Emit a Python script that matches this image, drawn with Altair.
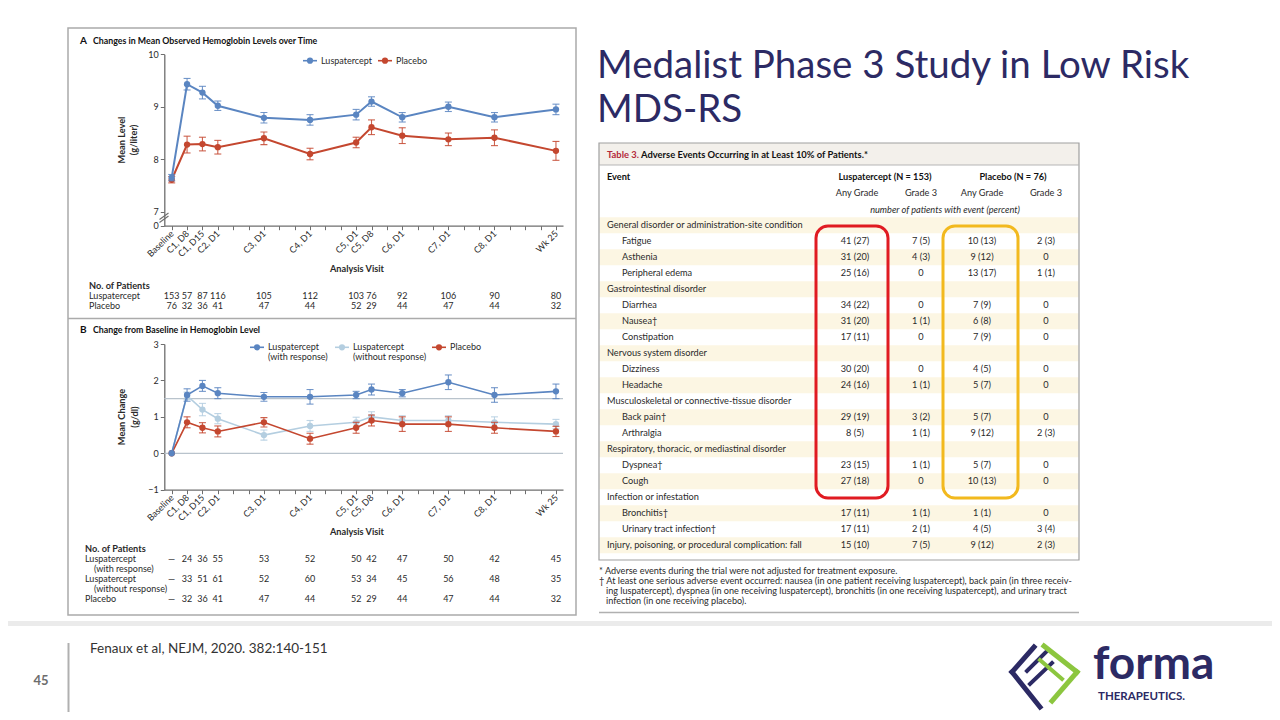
import json
import altair as alt
import pandas as pd

# ---------------------------------------------------------------- data
visit_labels = ["Baseline", "C1, D8", "C1, D15", "C2, D1", "C3, D1", "C4, D1",
                "C5, D1", "C5, D8", "C6, D1", "C7, D1", "C8, D1", "Wk 25"]
visit_weeks = [0, 1, 2, 3, 6, 9, 12, 13, 15, 18, 21, 25]

# Panel A: mean observed hemoglobin (g/dl)
a_lusp_mean = [7.65, 9.43, 9.27, 9.02, 8.79, 8.75, 8.85, 9.10, 8.80, 9.00, 8.80, 8.95]
a_lusp_err = [0.06, 0.11, 0.12, 0.09, 0.10, 0.10, 0.10, 0.09, 0.09, 0.09, 0.09, 0.10]
a_plac_mean = [7.61, 8.28, 8.29, 8.23, 8.40, 8.10, 8.32, 8.61, 8.45, 8.38, 8.41, 8.16]
a_plac_err = [0.06, 0.16, 0.13, 0.13, 0.12, 0.11, 0.10, 0.14, 0.15, 0.12, 0.15, 0.18]
a_n_lusp = ["153", "57", "87", "116", "105", "112", "103", "76", "92", "106", "90", "80"]
a_n_plac = ["76", "32", "36", "41", "47", "44", "52", "29", "44", "47", "44", "32"]

# Panel B: change from baseline (g/dl)
b_resp_mean = [0, 1.60, 1.85, 1.65, 1.55, 1.55, 1.60, 1.75, 1.65, 1.95, 1.60, 1.70]
b_resp_err = [0, 0.17, 0.15, 0.15, 0.12, 0.20, 0.10, 0.15, 0.10, 0.20, 0.20, 0.20]
b_nonr_mean = [0, 1.58, 1.20, 0.95, 0.50, 0.75, 0.85, 1.00, 0.90, 0.90, 0.85, 0.80]
b_nonr_err = [0, 0.10, 0.17, 0.14, 0.14, 0.15, 0.14, 0.14, 0.13, 0.13, 0.15, 0.13]
b_plac_mean = [0, 0.85, 0.70, 0.60, 0.85, 0.40, 0.70, 0.90, 0.80, 0.80, 0.70, 0.60]
b_plac_err = [0, 0.15, 0.14, 0.15, 0.13, 0.15, 0.15, 0.15, 0.20, 0.20, 0.15, 0.14]
b_n_resp = ["—", "24", "36", "55", "53", "52", "50", "42", "47", "50", "42", "45"]
b_n_nonr = ["—", "33", "51", "61", "52", "60", "53", "34", "45", "56", "48", "35"]
b_n_plac = ["—", "32", "36", "41", "47", "44", "52", "29", "44", "47", "44", "32"]
b_ref_lines = [0, 1.5]

# Table 3
ae_events = ["General disorder or administration-site condition", "Fatigue", "Asthenia",
             "Peripheral edema", "Gastrointestinal disorder", "Diarrhea", "Nausea†",
             "Constipation", "Nervous system disorder", "Dizziness", "Headache",
             "Musculoskeletal or connective-tissue disorder", "Back pain†", "Arthralgia",
             "Respiratory, thoracic, or mediastinal disorder", "Dyspnea†", "Cough",
             "Infection or infestation", "Bronchitis†", "Urinary tract infection†",
             "Injury, poisoning, or procedural complication: fall"]
ae_is_group = [1, 0, 0, 0, 1, 0, 0, 0, 1, 0, 0, 1, 0, 0, 1, 0, 0, 1, 0, 0, 1]
lusp_any = ["", "41 (27)", "31 (20)", "25 (16)", "", "34 (22)", "31 (20)", "17 (11)", "",
            "30 (20)", "24 (16)", "", "29 (19)", "8 (5)", "", "23 (15)", "27 (18)", "",
            "17 (11)", "17 (11)", "15 (10)"]
lusp_g3 = ["", "7 (5)", "4 (3)", "0", "", "0", "1 (1)", "0", "", "0", "1 (1)", "",
           "3 (2)", "1 (1)", "", "1 (1)", "0", "", "1 (1)", "2 (1)", "7 (5)"]
plac_any = ["", "10 (13)", "9 (12)", "13 (17)", "", "7 (9)", "6 (8)", "7 (9)", "",
            "4 (5)", "5 (7)", "", "5 (7)", "9 (12)", "", "5 (7)", "10 (13)", "",
            "1 (1)", "4 (5)", "9 (12)"]
plac_g3 = ["", "2 (3)", "0", "1 (1)", "", "0", "0", "0", "", "0", "0", "", "0", "2 (3)",
           "", "0", "0", "", "0", "3 (4)", "2 (3)"]

# ---------------------------------------------------------------- layout helpers
W, H = 1264, 704
M = 8
FONT = "Lato"
BLUE = "#5a85c1"
RED = "#c4472f"
LBLUE = "#b4cee0"
NAVY = "#2c2a64"
AXC = "#6e6e6e"
TXT = "#2a2a2a"


def px(x):
    return x - M


def py(y):
    return y - M


ONE = pd.DataFrame({"d": [0]})


def txt(s, x, y, size=9.0, weight="normal", color=TXT, align="left", angle=0,
        style="normal", font=FONT, baseline="middle"):
    kw = dict(font=font, fontSize=size, fontWeight=weight, color=color, align=align,
              baseline=baseline, fontStyle=style)
    if angle:
        kw["angle"] = angle
    return alt.Chart(pd.DataFrame({"t": [s]})).mark_text(**kw).encode(
        x=alt.value(px(x)), y=alt.value(py(y)), text="t:N")


def rect(x1, y1, x2, y2, fill=None, stroke=None, sw=1.0, radius=0):
    kw = {}
    if fill:
        kw["fill"] = fill
    else:
        kw["fill"] = "white"
        kw["fillOpacity"] = 0
    if stroke:
        kw["stroke"] = stroke
        kw["strokeWidth"] = sw
    if radius:
        kw["cornerRadius"] = radius
    return alt.Chart(ONE).mark_rect(**kw).encode(
        x=alt.value(px(x1)), x2=alt.value(px(x2)), y=alt.value(py(y1)), y2=alt.value(py(y2)))


def seg(x1, y1, x2, y2, color, width=1.0, cap="butt"):
    return alt.Chart(ONE).mark_rule(color=color, strokeWidth=width, strokeCap=cap).encode(
        x=alt.value(px(x1)), y=alt.value(py(y1)), x2=alt.value(px(x2)), y2=alt.value(py(y2)))


def dot(x, y, color, size=38):
    return alt.Chart(ONE).mark_point(filled=True, color=color, size=size, opacity=1).encode(
        x=alt.value(px(x)), y=alt.value(py(y)))


# ---------------------------------------------------------------- shared x (weeks)
X_LEFT, X_RIGHT = 164.3, 563.0
WK0, WK_STEP = 171.7, 15.37
x_domain = [(X_LEFT - WK0) / WK_STEP, (X_RIGHT - WK0) / WK_STEP]
wk_js = json.dumps(visit_weeks)
lab_js = json.dumps(visit_labels)
label_expr = f"indexof({wk_js}, datum.value) >= 0 ? {lab_js}[indexof({wk_js}, datum.value)] : ''"


def make_x(axis_y):
    ax = alt.Axis(orient="bottom", offset=py(axis_y) - H, values=list(range(0, 26)),
                  labelExpr=label_expr, labelAngle=315, labelAlign="right",
                  labelBaseline="middle", labelPadding=2, labelFontSize=9, labelFont=FONT,
                  labelColor=TXT, labelOverlap=False, labelFlush=False, tickSize=4,
                  tickColor=AXC, tickWidth=1, domainColor=AXC, domainWidth=1.3,
                  grid=False, title=None)
    sc = alt.Scale(domain=x_domain, range=[px(X_LEFT), px(X_RIGHT)], nice=False, zero=False)
    return alt.X("week:Q", scale=sc, axis=ax)


def make_yaxis(values, expr):
    return alt.Axis(orient="left", offset=-px(X_LEFT), values=values, labelExpr=expr,
                    labelFontSize=9, labelFont=FONT, labelColor=TXT, labelPadding=2,
                    tickSize=4, tickColor=AXC, tickWidth=1, domainColor=AXC,
                    domainWidth=1.3, grid=False, title=None)


def series_panel(df, xenc, yscale, yaxis, cscale, order_names, lw):
    color = alt.Color("series:N", scale=cscale, legend=None)

    def Y(f):
        return alt.Y(f"{f}:Q", scale=yscale, axis=yaxis)

    layers = []
    for name in order_names:
        d = df[df["series"] == name]
        de = d[d["err"] > 0]
        base_e = alt.Chart(de)
        layers.append(base_e.mark_rule(strokeWidth=1.1, opacity=0.85).encode(
            x=xenc, y=Y("lo"), y2="hi:Q", color=color))
        layers.append(base_e.mark_tick(orient="horizontal", size=7, thickness=1.1, opacity=0.85)
                      .encode(x=xenc, y=Y("lo"), color=color))
        layers.append(base_e.mark_tick(orient="horizontal", size=7, thickness=1.1, opacity=0.85)
                      .encode(x=xenc, y=Y("hi"), color=color))
        base = alt.Chart(d)
        layers.append(base.mark_line(strokeWidth=lw).encode(x=xenc, y=Y("mean"), color=color))
        layers.append(base.mark_circle(size=40, opacity=1).encode(
            x=xenc, y=Y("mean"), color=color))
    return layers


def count_row(values, xenc, y):
    d = pd.DataFrame({"week": visit_weeks, "n": values})
    return alt.Chart(d).mark_text(font=FONT, fontSize=9, color=TXT, align="center",
                                  baseline="middle").encode(
        x=xenc, y=alt.value(py(y)), text="n:N")


# ---------------------------------------------------------------- panel A
dfA = pd.DataFrame({
    "week": visit_weeks * 2,
    "series": ["Luspatercept"] * 12 + ["Placebo"] * 12,
    "mean": a_lusp_mean + a_plac_mean,
    "err": a_lusp_err + a_plac_err,
})
dfA["lo"] = dfA["mean"] - dfA["err"]
dfA["hi"] = dfA["mean"] + dfA["err"]

A_TOP, A_BOT = 54.3, 225.7
A_UNIT = 52.7
a_low = 7 - (A_BOT - 211.7) / A_UNIT
yA = alt.Scale(domain=[a_low, 10], range=[py(A_BOT), py(A_TOP)], nice=False, zero=False)
yA_axis = make_yaxis([a_low, 7, 8, 9, 10],
                     "datum.value < 6.9 ? '0' : format(datum.value, 'd')")
xA = make_x(A_BOT)
cA = alt.Scale(domain=["Luspatercept", "Placebo"], range=[BLUE, RED])

panelA = alt.layer(
    *series_panel(dfA, xA, yA, yA_axis, cA, ["Placebo", "Luspatercept"], 2.0),
    count_row(a_n_lusp, xA, 296),
    count_row(a_n_plac, xA, 306),
)

# ---------------------------------------------------------------- panel B
dfB = pd.DataFrame({
    "week": visit_weeks * 3,
    "series": ["Without"] * 12 + ["Placebo"] * 12 + ["With"] * 12,
    "mean": b_nonr_mean + b_plac_mean + b_resp_mean,
    "err": b_nonr_err + b_plac_err + b_resp_err,
})
dfB["lo"] = dfB["mean"] - dfB["err"]
dfB["hi"] = dfB["mean"] + dfB["err"]

B_TOP, B_BOT = 344.0, 489.7
yB = alt.Scale(domain=[-1, 3], range=[py(B_BOT), py(B_TOP)], nice=False, zero=False)
yB_axis = make_yaxis([-1, 0, 1, 2, 3], "format(datum.value, 'd')")
xB = make_x(B_BOT)
cB = alt.Scale(domain=["With", "Without", "Placebo"], range=[BLUE, LBLUE, RED])

refB = alt.Chart(pd.DataFrame({"v": b_ref_lines})).mark_rule(
    color="#b9c3cc", strokeWidth=1.2).encode(
    y=alt.Y("v:Q", scale=yB, axis=yB_axis), x=alt.value(px(X_LEFT)), x2=alt.value(px(X_RIGHT)))

panelB = alt.layer(
    refB,
    *series_panel(dfB, xB, yB, yB_axis, cB, ["Without", "Placebo", "With"], 1.6),
    count_row(b_n_resp, xB, 559.3),
    count_row(b_n_nonr, xB, 579.3),
    count_row(b_n_plac, xB, 599.3),
)

# ---------------------------------------------------------------- left panel decorations
left = [
    rect(68, 28, 576, 615, stroke="#ababab", sw=1.5),
    seg(68, 318.5, 576, 318.5, "#ababab", 1.5),
    # panel A titles
    txt("A", 80, 41, size=10, weight="bold", color="#111"),
    txt("Changes in Mean Observed Hemoglobin Levels over Time", 93, 41, size=8.8,
        weight="bold", color="#111"),
    txt("Mean Level", 122, 140, size=9.2, weight="bold", align="center", angle=270),
    txt("(g/liter)", 134, 140, size=9.2, weight="bold", align="center", angle=270),
    txt("Analysis Visit", 357, 269, size=9.2, weight="bold", align="center"),
    seg(159.5, 219.5, 168.5, 213.0, AXC, 1.1),
    seg(159.5, 222.5, 168.5, 216.0, AXC, 1.1),
    # panel A legend
    seg(303, 60.7, 317, 60.7, BLUE, 1.6), dot(310, 60.7, BLUE),
    txt("Luspatercept", 321, 60.7, size=9),
    seg(378, 60.7, 392, 60.7, RED, 1.6), dot(385, 60.7, RED),
    txt("Placebo", 396, 60.7, size=9),
    # panel A counts
    txt("No. of Patients", 89, 286, size=9.2, weight="bold"),
    txt("Luspatercept", 89, 296, size=9),
    txt("Placebo", 89, 306, size=9),
    # panel B titles
    txt("B", 80, 330, size=10, weight="bold", color="#111"),
    txt("Change from Baseline in Hemoglobin Level", 93, 330, size=8.8, weight="bold",
        color="#111"),
    txt("Mean Change", 122, 417, size=9.2, weight="bold", align="center", angle=270),
    txt("(g/dl)", 135, 417, size=9.2, weight="bold", align="center", angle=270),
    txt("Analysis Visit", 357, 532.3, size=9.2, weight="bold", align="center"),
    # panel B legend
    seg(250, 347.3, 264, 347.3, BLUE, 1.6), dot(257, 347.3, BLUE),
    txt("Luspatercept", 268, 347.3, size=9), txt("(with response)", 268, 357.3, size=9),
    seg(335, 347.3, 349, 347.3, LBLUE, 1.6), dot(342, 347.3, LBLUE),
    txt("Luspatercept", 353, 347.3, size=9), txt("(without response)", 353, 357.3, size=9),
    seg(432, 347.3, 446, 347.3, RED, 1.6), dot(439, 347.3, RED),
    txt("Placebo", 450, 347.3, size=9),
    # panel B counts
    txt("No. of Patients", 85, 549.3, size=9.2, weight="bold"),
    txt("Luspatercept", 85, 559.3, size=9),
    txt("(with response)", 94, 569.3, size=9),
    txt("Luspatercept", 85, 579.3, size=9),
    txt("(without response)", 94, 589.3, size=9),
    txt("Placebo", 85, 599.3, size=9),
]

# ---------------------------------------------------------------- table
T_L, T_R = 599, 1079
dfT = pd.DataFrame({
    "i": list(range(len(ae_events))),
    "event": ae_events, "group": ae_is_group,
    "la": lusp_any, "lg": lusp_g3, "pa": plac_any, "pg": plac_g3,
})
dfT["r"] = dfT["i"] + 0.5
dfT["r0"] = dfT["i"]
dfT["r1"] = dfT["i"] + 1
yT = alt.Scale(domain=[0, 21], range=[py(217.3), py(553.3)], nice=False, zero=False)
baseT = alt.Chart(dfT)

bands = baseT.transform_filter("datum.i % 2 == 0").mark_rect(fill="#fcf6e3").encode(
    x=alt.value(px(T_L + 0.5)), x2=alt.value(px(T_R - 0.5)),
    y=alt.Y("r0:Q", scale=yT, axis=None), y2="r1:Q")


def tcol(field, x, align="center", filt=None):
    b = baseT
    if filt:
        b = b.transform_filter(filt)
    return b.mark_text(font=FONT, fontSize=9.2, color=TXT, align=align, baseline="middle").encode(
        x=alt.value(px(x)), y=alt.Y("r:Q", scale=yT, axis=None), text=f"{field}:N")


table = [
    rect(T_L, 143, T_R, 165, fill="#f3f0eb"),
    bands,
    rect(T_L, 143, T_R, 560, stroke="#a0a0a0", sw=1.2),
    seg(T_L, 165, T_R, 165, "#b5b5b5", 1),
    txt("Table 3.", 607, 155, size=9.4, weight="bold", color="#b3293a"),
    txt("Adverse Events Occurring in at Least 10% of Patients.*", 641, 155, size=9.4,
        weight="bold", color="#111"),
    txt("Event", 607, 177, size=9.2, weight="bold", color="#111"),
    txt("Luspatercept (N = 153)", 885, 177, size=9.2, weight="bold", color="#111",
        align="center"),
    txt("Placebo (N = 76)", 1013, 177, size=9.2, weight="bold", color="#111", align="center"),
    txt("Any Grade", 857, 193.3, size=9.2, align="center"),
    txt("Grade 3", 921, 193.3, size=9.2, align="center"),
    txt("Any Grade", 982, 193.3, size=9.2, align="center"),
    txt("Grade 3", 1046, 193.3, size=9.2, align="center"),
    txt("number of patients with event (percent)", 945, 209.5, size=9.2, style="italic",
        align="center"),
    tcol("event", 607, align="left", filt="datum.group == 1"),
    tcol("event", 622, align="left", filt="datum.group == 0"),
    tcol("la", 855),
    tcol("lg", 921),
    tcol("pa", 982),
    tcol("pg", 1046),
    rect(816, 226, 888, 498, stroke="#e01b22", sw=3, radius=12),
    rect(943, 226, 1018, 498, stroke="#f2b91e", sw=3, radius=12),
    txt("* Adverse events during the trial were not adjusted for treatment exposure.",
        599, 571, size=9.1),
    txt("† At least one serious adverse event occurred: nausea (in one patient receiving "
        "luspatercept), back pain (in three receiv-", 599, 581, size=9.1),
    txt("ing luspatercept), dyspnea (in one receiving luspatercept), bronchitis (in one "
        "receiving luspatercept), and urinary tract", 606, 591, size=9.1),
    txt("infection (in one receiving placebo).", 606, 601, size=9.1),
    seg(T_L, 612.5, T_R, 612.5, "#b0b0b0", 1.5),
]

# ---------------------------------------------------------------- slide furniture
slide = [
    txt("Medalist Phase 3 Study in Low Risk", 597, 77.5, size=38.5, color=NAVY,
        baseline="alphabetic"),
    txt("MDS-RS", 597, 121.5, size=38.5, color=NAVY, baseline="alphabetic"),
    rect(8, 621, 1272, 626, fill="#ebebeb"),
    seg(68.5, 643, 68.5, 713, "#b0b0b0", 2),
    txt("45", 41, 681, size=13, weight="bold", color="#6d6d6d", align="center"),
    txt("Fenaux et al, NEJM, 2020. 382:140-151", 90, 648.5, size=13.5, color="#333"),
    # logo mark
    seg(1034, 647, 1012, 672, NAVY, 5, "square"),
    seg(1012, 672, 1040, 707, NAVY, 5, "square"),
    seg(1027, 671, 1048, 650, NAVY, 4, "square"),
    seg(1030, 684, 1052, 663, NAVY, 4, "square"),
    seg(1044, 646, 1077, 672, "#8cc63f", 5, "square"),
    seg(1077, 672, 1052, 701, "#8cc63f", 5, "square"),
    seg(1040, 660, 1062, 679, "#8cc63f", 4, "square"),
    # logo text
    txt("forma", 1093, 679, size=46, weight="bold", color=NAVY, baseline="alphabetic"),
    txt("THERAPEUTICS.", 1098, 697, size=11.5, weight="bold", color=NAVY),
]

chart = alt.layer(
    *left, panelA, panelB, *table, *slide
).resolve_scale(
    x="independent", y="independent", color="independent"
).properties(
    width=W, height=H, padding=0, background="white",
    autosize=alt.AutoSizeParams(type="none"),
).configure_view(stroke=None)

chart.save("out.html", embed_options={"renderer": "svg", "actions": False})
